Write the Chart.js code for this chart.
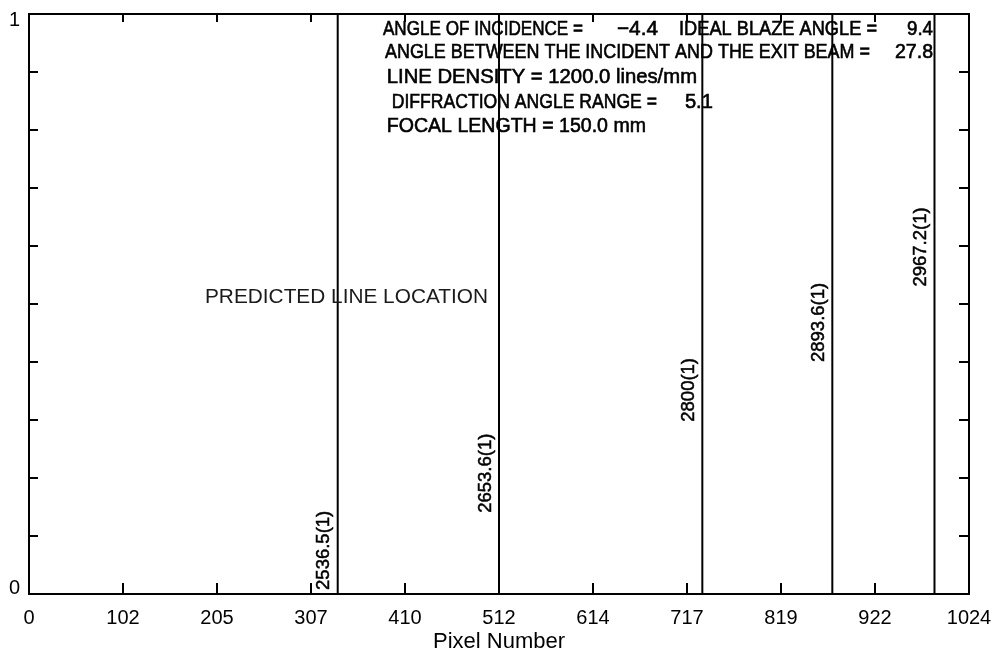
<!DOCTYPE html>
<html>
<head>
<meta charset="utf-8">
<script src="https://cdn.jsdelivr.net/npm/chart.js@4.4.1/dist/chart.umd.min.js"></script>
<style>
  html, body { margin: 0; padding: 0; background: #ffffff; }
  #wrap { width: 996px; height: 652px; }
</style>
</head>
<body>
<div id="wrap"><canvas id="c" width="996" height="652"></canvas></div>
<script>
// ---- data ----
const lineNames = ['2536.5(1)', '2653.6(1)', '2800(1)', '2893.6(1)', '2967.2(1)'];
const linePixels = [336.3, 512.0, 733.5, 875.1, 986.4];
const lineLabelY = [0.007, 0.14, 0.297, 0.40, 0.53];
const xTickValues = [0, 102.4, 204.8, 307.2, 409.6, 512, 614.4, 716.8, 819.2, 921.6, 1024];
const xTickLabels = ['0', '102', '205', '307', '410', '512', '614', '717', '819', '922', '1024'];
const yTickValues = [0, 0.1, 0.2, 0.3, 0.4, 0.5, 0.6, 0.7, 0.8, 0.9, 1];
const yTickLabels = ['0', '', '', '', '', '', '', '', '', '', '1'];
const infoIncidence = ['ANGLE OF INCIDENCE =', '\u22124.4', 'IDEAL BLAZE ANGLE =', '9.4'];
const infoBetween = ['ANGLE BETWEEN THE INCIDENT AND THE EXIT BEAM =', '27.8'];
const infoDensity = ['LINE DENSITY = 1200.0 lines/mm'];
const infoRange = ['DIFFRACTION ANGLE RANGE =', '5.1'];
const infoFocal = ['FOCAL LENGTH = 150.0 mm'];
const centerText = 'PREDICTED LINE LOCATION';
const xTitle = 'Pixel Number';

Chart.defaults.font.family = "'Liberation Sans', Arial, Helvetica, sans-serif";
Chart.defaults.color = '#000';

// draw text fitted between two x pixel positions
function fitText(ctx, text, x0, x1, y, bold) {
  const w = ctx.measureText(text).width;
  const span = x1 - x0;
  ctx.save();
  ctx.translate(x0, y);
  ctx.scale(span / w, 1);
  ctx.fillText(text, 0, 0);
  if (bold) { ctx.lineWidth = bold; ctx.strokeText(text, 0, 0); }
  ctx.restore();
}

const framePlugin = {
  id: 'frame',
  afterDraw(chart) {
    const { ctx, chartArea, scales } = chart;
    const { left, right, top, bottom } = chartArea;
    const x = scales.x, y = scales.y;
    ctx.save();
    ctx.strokeStyle = '#000';
    ctx.lineWidth = 2;
    ctx.strokeRect(left, top, right - left, bottom - top);
    ctx.beginPath();
    xTickValues.forEach(v => {
      const px = x.getPixelForValue(v);
      ctx.moveTo(px, bottom); ctx.lineTo(px, bottom - 11);
      ctx.moveTo(px, top); ctx.lineTo(px, top + 8);
    });
    yTickValues.forEach(v => {
      const py = y.getPixelForValue(v);
      ctx.moveTo(left, py); ctx.lineTo(left + 9, py);
      ctx.moveTo(right, py); ctx.lineTo(right - 10, py);
    });
    ctx.stroke();

    // info block
    ctx.fillStyle = '#000';
    ctx.strokeStyle = '#000';
    ctx.textBaseline = 'alphabetic';
    ctx.textAlign = 'left';
    ctx.font = "20px 'Liberation Sans', Arial, sans-serif";
    const X = v => x.getPixelForValue(v);
    const Y = v => y.getPixelForValue(v);
    const rows = [
      [infoIncidence, [[385.6, 603.5], [640.5, 685.2], [708.1, 923.8], [956.4, 984.8]], 0.9638],
      [infoBetween, [[387.8, 916.1], [943.4, 984.8]], 0.9241],
      [infoDensity, [[389.7, 727.7]], 0.8816],
      [infoRange, [[395.1, 684.1], [714.5, 745.0]], 0.8379],
      [infoFocal, [[389.7, 672.1]], 0.797]
    ];
    rows.forEach(([texts, spans, yv]) => {
      texts.forEach((t, i) => fitText(ctx, t, X(spans[i][0]), X(spans[i][1]), Y(yv), 0.6));
    });

    // center label
    ctx.fillStyle = '#1a1a1a';
    ctx.font = "21px 'Liberation Sans', Arial, sans-serif";
    fitText(ctx, centerText, X(191.7), X(500.0), Y(0.5017), 0);

    // rotated line labels
    ctx.fillStyle = '#000';
    ctx.font = "18.5px 'Liberation Sans', Arial, sans-serif";
    ctx.textBaseline = 'middle';
    ctx.lineWidth = 0.5;
    lineNames.forEach((t, i) => {
      ctx.save();
      ctx.translate(X(linePixels[i]) - 13.5, Y(lineLabelY[i]));
      ctx.rotate(-Math.PI / 2);
      ctx.fillText(t, 0, 0);
      ctx.strokeText(t, 0, 0);
      ctx.restore();
    });
    ctx.restore();
  }
};

const datasets = linePixels.map(p => ({
  data: [{ x: p, y: 0 }, { x: p, y: 1 }],
  borderColor: '#000',
  borderWidth: 2,
  pointRadius: 0,
  showLine: true,
  fill: false
}));

new Chart(document.getElementById('c'), {
  type: 'scatter',
  data: { datasets },
  options: {
    responsive: false,
    animation: false,
    devicePixelRatio: 1,
    layout: { padding: { left: 0, right: 27, top: 14, bottom: 0 } },
    plugins: { legend: { display: false }, tooltip: { enabled: false } },
    scales: {
      x: {
        type: 'linear', min: 0, max: 1024,
        grid: { display: false, drawTicks: false },
        border: { display: false },
        afterBuildTicks: s => { s.ticks = xTickValues.map(v => ({ value: v })); },
        afterFit: s => { s.height = 58; s.paddingLeft = 0; s.paddingRight = 0; },
        ticks: {
          autoSkip: false, maxRotation: 0, padding: 12,
          font: { size: 20 }, color: '#000',
          callback: (v, i) => xTickLabels[i]
        },
        title: {
          display: true, text: xTitle, color: '#000',
          font: { size: 22, lineHeight: 1 }, padding: { top: 0, bottom: -1 }
        }
      },
      y: {
        type: 'linear', min: 0, max: 1,
        grid: { display: false, drawTicks: false },
        border: { display: false },
        afterBuildTicks: s => { s.ticks = yTickValues.map(v => ({ value: v })); },
        afterFit: s => { s.width = 29; s.paddingTop = 0; s.paddingBottom = 0; },
        ticks: {
          autoSkip: false, padding: 9,
          font: { size: 20, lineHeight: 0.6 }, color: '#000',
          // IDL-style: top label sits just below its tick, bottom label just above
          callback: (v, i) => {
            const t = yTickLabels[i];
            if (!t) return t;
            return i === 0 ? [t, ''] : ['', t];
          }
        }
      }
    }
  },
  plugins: [framePlugin]
});
</script>
</body>
</html>
